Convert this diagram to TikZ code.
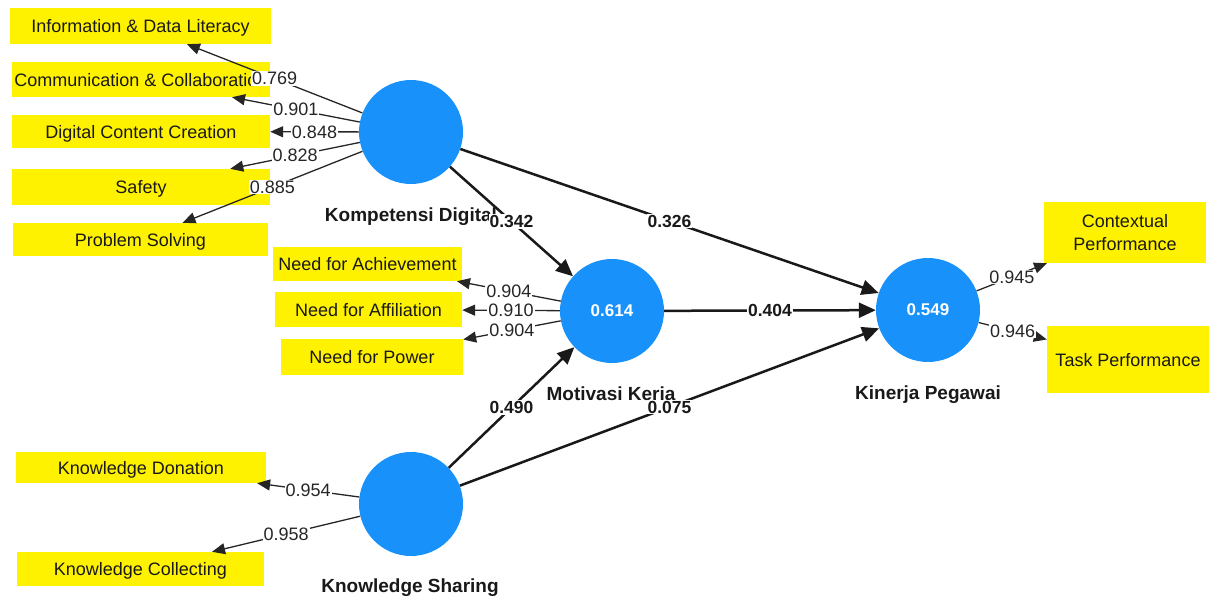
\documentclass[tikz,border=0pt]{standalone}
\usepackage{fontspec}
\setmainfont{Liberation Sans}
\usetikzlibrary{arrows.meta}
\definecolor{lvblue}{RGB}{24,146,250}
\begin{document}
\begin{tikzpicture}[x=1pt,y=-1pt,
  ind/.style={fill=yellow, inner sep=0pt, align=center, text=black!90, text depth=0pt,
    font=\fontsize{18}{22.7}\selectfont},
  lv/.style={circle, fill=lvblue, minimum size=104pt, inner sep=0pt, text=white,
    font=\bfseries\fontsize{17}{20}\selectfont},
  lvname/.style={anchor=base, text=black!90, font=\bfseries\fontsize{19}{20}\selectfont},
  loadarrow/.style={draw=black!85, line width=1.3pt, -{Triangle[length=13pt,width=11pt]}},
  loadlbl/.style={fill=white, inner sep=1pt, text=black!85, font=\fontsize{18}{20}\selectfont},
  structarrow/.style={draw=black!90, line width=2.5pt, -{Triangle[length=17pt,width=15pt]}},
  structlbl/.style={fill=white, inner sep=1pt, text=black!90, font=\bfseries\fontsize{17.5}{20}\selectfont}
]
\useasboundingbox (0,0) rectangle (1211,599);

% indicator boxes
\node[ind, minimum width=261pt, minimum height=36pt] (i1) at (140.5,26) {Information \& Data Literacy};
\node[ind, minimum width=258pt, minimum height=35pt] (i2) at (141,79.5) {Communication \& Collaboration};
\node[ind, minimum width=258pt, minimum height=33pt] (i3) at (141,131.5) {Digital Content Creation};
\node[ind, minimum width=258pt, minimum height=36pt] (i4) at (141,187) {Safety};
\node[ind, minimum width=255pt, minimum height=33pt] (i5) at (140.5,239.5) {Problem Solving};
\node[ind, minimum width=189pt, minimum height=34pt] (m1) at (367.5,264) {Need for Achievement};
\node[ind, minimum width=187pt, minimum height=35pt] (m2) at (368.5,309.5) {Need for Affiliation};
\node[ind, minimum width=182pt, minimum height=36pt] (m3) at (372,357) {Need for Power};
\node[ind, minimum width=250pt, minimum height=31pt] (k1) at (141,467.5) {Knowledge Donation};
\node[ind, minimum width=247pt, minimum height=34pt] (k2) at (140.5,569) {Knowledge Collecting};
\node[ind, minimum width=162pt, minimum height=61pt] (p1) at (1125,232.5) {Contextual\\Performance};
\node[ind, minimum width=162pt, minimum height=67pt] (p2) at (1128,359.5) {Task Performance};

% latent variables
\node[lv] (KD) at (411,132) {};
\node[lv] (MK) at (612,311) {0.614};
\node[lv] (KP) at (928,310) {0.549};
\node[lv] (KS) at (411,504) {};

\node[lvname] (KDn) at (411,222) {Kompetensi Digital};
\node[lvname] (MKn) at (611,400) {Motivasi Kerja};
\node[lvname] (KPn) at (928,399) {Kinerja Pegawai};
\node[lvname] (KSn) at (410,592) {Knowledge Sharing};

% outer loadings
\draw[loadarrow] (KD) -- node[loadlbl] {0.769} (i1);
\draw[loadarrow] (KD) -- node[loadlbl] {0.901} (i2);
\draw[loadarrow] (KD) -- node[loadlbl] {0.848} (i3);
\draw[loadarrow] (KD) -- node[loadlbl] {0.828} (i4);
\draw[loadarrow] (KD) -- node[loadlbl] {0.885} (i5);
\draw[loadarrow] (MK) -- node[loadlbl] {0.904} (m1);
\draw[loadarrow] (MK) -- node[loadlbl] {0.910} (m2);
\draw[loadarrow] (MK) -- node[loadlbl] {0.904} (m3);
\draw[loadarrow] (KS) -- node[loadlbl] {0.954} (k1);
\draw[loadarrow] (KS) -- node[loadlbl] {0.958} (k2);
\draw[loadarrow] (KP) -- node[loadlbl] {0.945} (p1);
\draw[loadarrow] (KP) -- node[loadlbl] {0.946} (p2);

% structural paths
\draw[structarrow] (KD) -- node[structlbl] {0.342} (MK);
\draw[structarrow] (KD) -- node[structlbl] {0.326} (KP);
\draw[structarrow] (MK) -- node[structlbl] {0.404} (KP);
\draw[structarrow] (KS) -- node[structlbl] {0.490} (MK);
\draw[structarrow] (KS) -- node[structlbl] {0.075} (KP);
\end{tikzpicture}
\end{document}
